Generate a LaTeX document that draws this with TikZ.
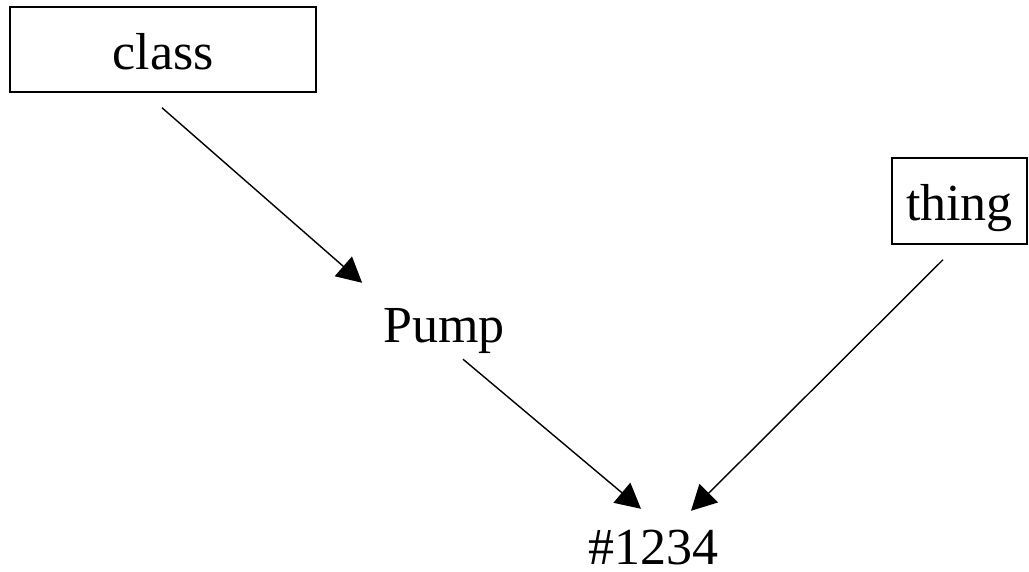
\documentclass[tikz,border=0pt]{standalone}
\usepackage{fontspec}
\setmainfont{Liberation Serif}
\usetikzlibrary{arrows.meta}
\begin{document}
\begin{tikzpicture}[x=1pt,y=-1pt,
  every node/.style={font=\fontsize{52}{62}\selectfont, inner sep=0pt},
  boxnode/.style={draw, line width=1.5pt, text height=40pt, text depth=0pt},
  word/.style={anchor=base, text height=36pt, text depth=6pt},
  arr/.style={line width=1.4pt, -{Triangle[length=25pt,width=26pt]}}]
  \useasboundingbox (0,0) rectangle (1029,572);

  % boxed terms
  \node[boxnode, minimum width=306pt, minimum height=85pt] (class) at (163,49.5) {class};
  \node[boxnode, minimum width=135pt, minimum height=86pt] (thing) at (959.5,201) {thing};

  % plain terms
  \node[word] (pump) at (444,343) {Pump};
  \node[word, text depth=0pt] (item) at (653.5,564) {\#1234};

  % relations
  \draw[arr] ([shift={(-1,15)}]class.south) -- ([shift={(-21,-24)}]pump.north west);
  \draw[arr] ([shift={(19,10)}]pump.south) -- ([shift={(-12.5,-19)}]item.north);
  \draw[arr] ([shift={(-16.5,15)}]thing.south) -- ([shift={(37.5,-17)}]item.north);
\end{tikzpicture}
\end{document}
